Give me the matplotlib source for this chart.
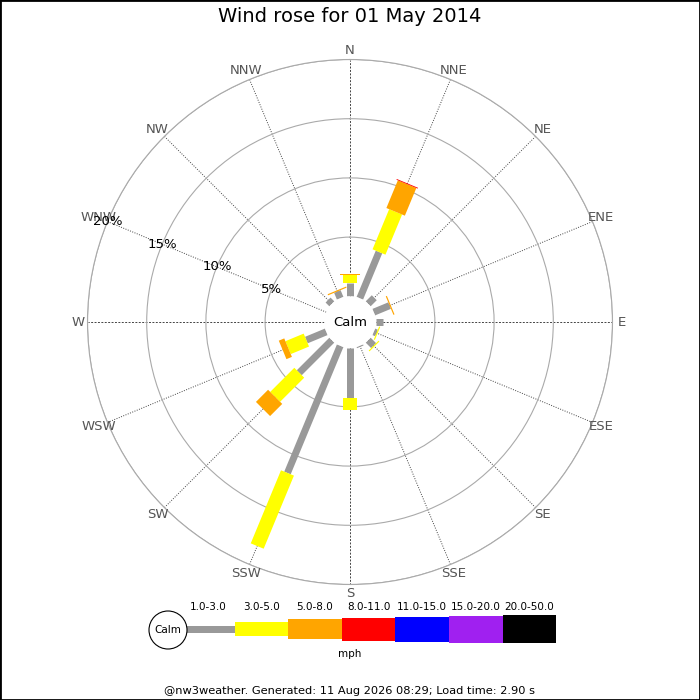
import numpy as np
import matplotlib
matplotlib.use('Agg')
from matplotlib import pyplot as plt
from matplotlib.patches import Rectangle, Circle

# directions, clockwise from north
directions = ['N', 'NNE', 'NE', 'ENE', 'E', 'ESE', 'SE', 'SSE',
              'S', 'SSW', 'SW', 'WSW', 'W', 'WNW', 'NW', 'NNW']

# frequency (%) per speed bin (mph) for each direction
spd_1_3 = [1.10, 4.23, 0.73, 1.45, 0.64, 0.25, 0.65, 0.10,
           4.27, 11.63, 3.89, 1.82, 0.0, 0.0, 0.45, 0.62]
spd_3_5 = [0.70, 3.67, 0.0, 0.0, 0.0, 0.10, 0.10, 0.0,
           0.99, 6.68, 2.88, 1.67, 0.0, 0.0, 0.0, 0.0]
spd_5_8 = [0.08, 2.53, 0.0, 0.10, 0.0, 0.0, 0.0, 0.0,
           0.0, 0.0, 1.45, 0.50, 0.0, 0.0, 0.0, 0.10]
spd_8_11 = [0.0, 0.07, 0.0, 0.0, 0.0, 0.0, 0.0, 0.0,
            0.0, 0.0, 0.0, 0.0, 0.0, 0.0, 0.0, 0.0]

bin_labels = ['1.0-3.0', '3.0-5.0', '5.0-8.0', '8.0-11.0',
              '11.0-15.0', '15.0-20.0', '20.0-50.0']
bin_colors = ['#999999', '#ffff00', '#ffa500', '#ff0000',
              '#0000ff', '#a020f0', '#000000']
bin_widths_px = [7, 14, 20, 23, 25, 27, 28]

ring_ticks = [5, 10, 15, 20]
title = 'Wind rose for 01 May 2014'
footer = '@nw3weather. Generated: 11 Aug 2026 08:29; Load time: 2.90 s'

series = [spd_1_3, spd_3_5, spd_5_8, spd_8_11]

px = 0.72  # points per pixel at dpi 100
fig = plt.figure(figsize=(7, 7), dpi=100)

ax = fig.add_axes([0.125, 0.165, 0.75, 0.75], projection='polar')
ax.set_theta_zero_location('N')
ax.set_theta_direction(-1)
ax.set_ylim(0, 20)
ax.set_rorigin(-2.17)

theta = np.deg2rad(np.arange(len(directions)) * 22.5)

# grid: rings and spokes
ax.set_yticks(ring_ticks)
ax.set_yticklabels([])
ax.set_xticks(theta)
ax.set_xticklabels([])
ax.tick_params(length=0)
ax.yaxis.grid(True, color='#aaaaaa', linestyle='-', linewidth=0.8)
ax.xaxis.grid(True, color='#444444', linewidth=0.7)
for i, gl in enumerate(ax.xaxis.get_gridlines()):
    if i % 4 == 0:
        gl.set_dashes([2, 1.5])
    else:
        gl.set_dashes([1, 1.5])
ax.spines['polar'].set_color('#aaaaaa')
ax.spines['polar'].set_linewidth(0.8)
ax.spines['inner'].set_edgecolor('none')
ax.spines['inner'].set_linewidth(0)

# stacked bars as thick radial segments
for th, *vals in zip(theta, *series):
    base = 0.0
    for k, v in enumerate(vals):
        if v <= 0:
            continue
        ax.plot([th, th], [base, base + v], color=bin_colors[k],
                linewidth=bin_widths_px[k] * px, solid_capstyle='butt',
                zorder=3 + k)
        base += v

# compass labels
for th, name in zip(theta, directions):
    ax.text(th, 20.8, name, ha='center', va='center', fontsize=9.5,
            color='#555555')

# percentage labels along WNW
wnw = theta[directions.index('WNW')]
for r in ring_ticks:
    ax.text(wnw, r, f'{r}%', ha='center', va='center', fontsize=9.5,
            color='black', zorder=10)

ax.text(0, -2.17, 'Calm', ha='center', va='center', fontsize=9.5, zorder=10)

fig.text(0.5, 1 - 17 / 700, title, ha='center', va='center', fontsize=14)

# legend drawn in pixel coordinates
lax = fig.add_axes([0, 0, 1, 1])
lax.set_xlim(0, 700)
lax.set_ylim(700, 0)
lax.axis('off')
lax.add_patch(Circle((168, 630), 19, facecolor='white', edgecolor='black',
                     linewidth=0.8, zorder=3))
lax.text(168, 630, 'Calm', ha='center', va='center', fontsize=7.5, zorder=4)
x0, seg = 181, 53.6
for k, (lab, col, w) in enumerate(zip(bin_labels, bin_colors, bin_widths_px)):
    lax.add_patch(Rectangle((x0 + k * seg, 629 - w / 2), seg, w,
                            facecolor=col, edgecolor='none'))
    lax.text(x0 + (k + 0.5) * seg, 607, lab, ha='center', va='center',
             fontsize=7.5)
lax.text(350, 654, 'mph', ha='center', va='center', fontsize=7.5)
lax.text(350, 691, footer, ha='center', va='center', fontsize=8.2)

fig.patches.append(Rectangle((0, 0), 1, 1, transform=fig.transFigure,
                             fill=False, edgecolor='black', linewidth=2))

fig.savefig('out.png', dpi=100)
